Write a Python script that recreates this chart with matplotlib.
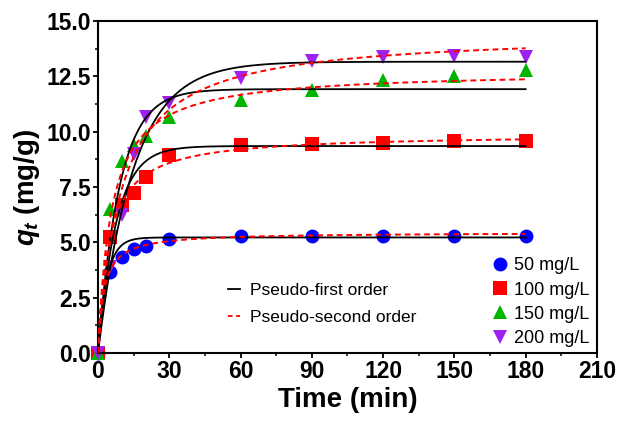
import numpy as np
import matplotlib
matplotlib.use('Agg')
import matplotlib.pyplot as plt
from matplotlib.ticker import MultipleLocator, FormatStrFormatter
from matplotlib.lines import Line2D

plt.rcParams['font.family'] = ['Liberation Sans', 'DejaVu Sans']
plt.rcParams['mathtext.fontset'] = 'custom'
plt.rcParams['mathtext.it'] = 'Liberation Sans:italic:bold'
plt.rcParams['mathtext.rm'] = 'Liberation Sans:bold'

# ── data ──────────────────────────────────────────────────────────────────
time_min = [0, 5, 10, 15, 20, 30, 60, 90, 120, 150, 180]
q_50 = [0, 3.67, 4.32, 4.68, 4.83, 5.14, 5.29, 5.30, 5.30, 5.30, 5.30]
q_100 = [0, 5.23, 6.69, 7.22, 7.97, 8.95, 9.40, 9.44, 9.50, 9.59, 9.59]
q_150 = [0, 6.49, 8.66, 9.40, 9.80, 10.68, 11.43, 11.90, 12.34, 12.52, 12.79]
q_200 = [0, 3.90, 6.24, 8.97, 10.65, 11.31, 12.44, 13.19, 13.36, 13.42, 13.36]

labels = ['50 mg/L', '100 mg/L', '150 mg/L', '200 mg/L']

# fitted kinetic parameters (qe in mg/g, k per model)
pfo_qe = [5.22, 9.35, 11.92, 13.16]
pfo_k1 = [0.27, 0.13, 0.11, 0.067]
pso_qe = [5.45, 9.90, 12.75, 14.50]
pso_k2 = [0.078, 0.022, 0.014, 0.0072]

colors = ['#0000FF', '#FF0000', '#00B400', '#A020F0']
markers = ['o', 's', '^', 'v']

fig = plt.figure(figsize=(6.29, 4.24), dpi=100)
ax = fig.add_axes([0.1558, 0.1675, 0.7932, 0.783])

series = [q_50, q_100, q_150, q_200]
for q, c, m, lab in zip(series, colors, markers, labels):
    ax.plot(time_min, q, linestyle='none', marker=m, color=c,
            markersize=10, markeredgewidth=0, label=lab, zorder=2,
            clip_on=False)

t_fit = np.linspace(0, 180, 400)
for qe, k in zip(pfo_qe, pfo_k1):
    ax.plot(t_fit, qe * (1 - np.exp(-k * t_fit)), color='black', lw=1.3, zorder=3)
for qe, k in zip(pso_qe, pso_k2):
    ax.plot(t_fit, qe**2 * k * t_fit / (1 + qe * k * t_fit),
            color='#FF0000', lw=1.4, ls=(0, (3, 2)), zorder=3)

ax.set_xlim(0, 210)
ax.set_ylim(0, 15)
ax.xaxis.set_major_locator(MultipleLocator(30))
ax.xaxis.set_minor_locator(MultipleLocator(15))
ax.yaxis.set_major_locator(MultipleLocator(2.5))
ax.yaxis.set_minor_locator(MultipleLocator(1.25))
ax.yaxis.set_major_formatter(FormatStrFormatter('%.1f'))
ax.tick_params(which='major', direction='out', length=3.5, width=1.3,
               labelsize=16.5, pad=1.5)
ax.tick_params(which='minor', direction='out', length=2.2, width=1.1)
for lab in ax.get_xticklabels() + ax.get_yticklabels():
    lab.set_fontweight('bold')
for s in ax.spines.values():
    s.set_linewidth(1.5)

ax.set_xlabel('Time (min)', fontsize=20, fontweight='bold', labelpad=3)
ax.set_ylabel(r'$q_t$ (mg/g)', fontsize=20, fontweight='bold', labelpad=3)

# marker legend (right)
leg1 = ax.legend(loc='upper left', bbox_to_anchor=(0.792, 0.288),
                 frameon=False, fontsize=13, handlelength=0.8,
                 handletextpad=0.35, labelspacing=0.4, borderpad=0,
                 borderaxespad=0)
ax.add_artist(leg1)

# model legend (middle)
h_lines = [Line2D([], [], color='black', lw=1.3),
           Line2D([], [], color='#FF0000', lw=1.3, ls=(0, (2.5, 2)))]
ax.legend(h_lines, ['Pseudo-first order', 'Pseudo-second order'],
          loc='upper left', bbox_to_anchor=(0.26, 0.21), frameon=False,
          fontsize=12.5, handlelength=0.7, handletextpad=0.6,
          labelspacing=0.65, borderpad=0, borderaxespad=0)

fig.savefig('out.png', dpi=100)
